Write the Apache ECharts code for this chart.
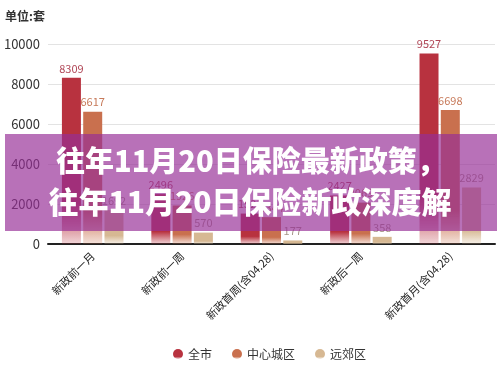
<!DOCTYPE html>
<html><head><meta charset="utf-8">
<script src="https://cdn.jsdelivr.net/npm/echarts@6/dist/echarts.min.js"></script>
<style>html,body{margin:0;padding:0;background:#fff}#c{width:500px;height:367px}</style>
</head><body><div id="c"></div>
<script>
const categories = ['新政前一月', '新政前一周', '新政首周(含04.28)', '新政后一周', '新政首月(含04.28)'];
const cityAll = [8309, 2496, 1521, 2427, 9527];
const cityCenter = [6617, 1926, 1344, 2069, 6698];
const suburb = [1692, 570, 177, 358, 2829];
const seriesNames = ['全市', '中心城区', '远郊区'];
const yTicks = [0, 2000, 4000, 6000, 8000, 10000];
const overlayLines = ['往年11月20日保险最新政策，', '往年11月20日保险新政深度解'];

const colors = ['#b8323f', '#c9704e', '#d6b893'];
const labelColors = ['#b04656', '#c77a5a', '#a8988a'];
function grad(c) {
  return new echarts.graphic.LinearGradient(0, 0, 0, 1, [
    {offset: 0, color: c}, {offset: 0.75, color: c}, {offset: 1, color: echarts.color.modifyAlpha(c, 0.2)}
  ]);
}
const chart = echarts.init(document.getElementById('c'));
const font = '"Noto Sans CJK SC", "Noto Sans", sans-serif';
chart.setOption({
  textStyle: {fontFamily: font},
  color: colors,
  grid: {left: 48, right: 5, top: 44, bottom: 123},
  legend: {
    bottom: 2, left: 168, icon: 'circle', itemWidth: 10, itemHeight: 10, itemGap: 20,
    textStyle: {color: '#333', fontSize: 12, fontFamily: font},
    data: seriesNames
  },
  xAxis: {
    type: 'category', data: categories,
    axisLine: {lineStyle: {color: '#222', width: 2}},
    axisTick: {show: false},
    axisLabel: {rotate: 45, color: '#222', fontSize: 11, interval: 0, margin: 10, fontFamily: font}
  },
  yAxis: {
    type: 'value', min: 0, max: 10000, interval: 2000,
    name: '单位:套', nameLocation: 'end', nameGap: 22,
    nameTextStyle: {color: '#333', fontSize: 12, fontWeight: 'bold', align: 'left', padding: [0, 0, 0, -43], fontFamily: font},
    axisLine: {show: false}, axisTick: {show: false},
    axisLabel: {color: '#333', fontSize: 13, margin: 8, fontFamily: font,
      formatter: v => yTicks.includes(v) ? String(v) : ''},
    splitLine: {lineStyle: {color: '#e3e3e3'}}
  },
  series: [cityAll, cityCenter, suburb].map((d, i) => ({
    name: seriesNames[i], type: 'bar', data: d,
    barWidth: 19, barGap: '12%',
    itemStyle: {color: grad(colors[i])},
    label: {show: true, position: 'top', color: labelColors[i], fontSize: 11, distance: 4, fontFamily: font}
  })),
  graphic: [
    {type: 'rect', left: 5, top: 134, z: 100, shape: {width: 492, height: 97},
     style: {fill: 'rgba(150,45,150,0.68)'}},
    {type: 'text', left: 56, top: 146, z: 101,
     style: {text: overlayLines[0], fill: '#fff', font: '900 29px "Noto Sans CJK SC", sans-serif',
       shadowBlur: 3, shadowColor: 'rgba(0,0,0,0.25)'}},
    {type: 'text', left: 'center', top: 187, z: 101,
     style: {text: overlayLines[1], fill: '#fff', font: '900 30px "Noto Sans CJK SC", sans-serif',
       shadowBlur: 3, shadowColor: 'rgba(0,0,0,0.25)'}}
  ]
});
</script></body></html>
